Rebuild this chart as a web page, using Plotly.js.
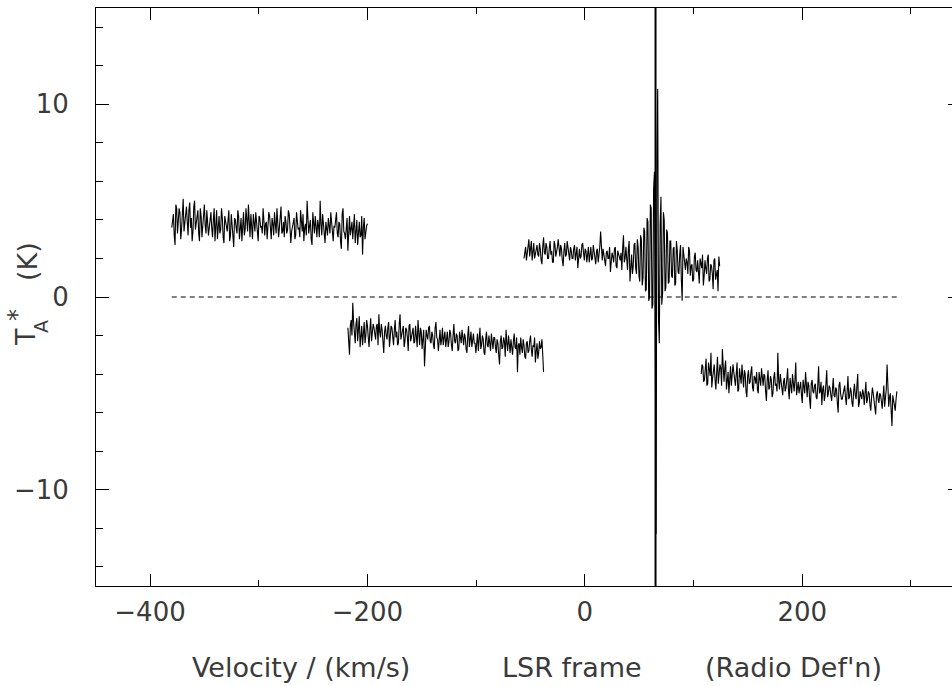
<!DOCTYPE html>
<html>
<head>
<meta charset="utf-8">
<script src="https://cdn.plot.ly/plotly-3.0.1.min.js"></script>
<style>
html,body{margin:0;padding:0;overflow:hidden;background:#fff;}
#plot{width:967px;height:686px;}
</style>
</head>
<body>
<div id="plot"></div>
<script>
// Velocity grid of each spectrum segment (km/s): first channel and channel width
const seg1Start = -380, seg2Start = -218, seg3Start = -56, seg4Start = 107;
const chanWidth = 0.75;

// Antenna temperature T_A* (K).
// "A" arrays: even channels, "B" arrays: odd channels.
const seg1A = [3.6,4.3,2.7,4.6,3.9,4.4,3.5,5.1,3.8,4.7,
  3.2,4.9,4.1,3.4,5.0,3.9,4.5,2.9,4.2,3.7,
  4.8,3.3,4.0,3.6,4.4,3.1,4.6,3.8,3.0,4.2,
  3.5,4.1,2.8,3.9,3.4,4.5,3.2,3.7,2.6,4.0,
  3.3,4.2,3.6,2.9,4.4,3.5,3.9,4.8,3.1,3.6,
  4.3,3.4,3.8,2.9,4.1,3.7,4.6,3.2,3.9,3.5,
  4.2,3.0,3.8,4.4,3.3,3.9,3.6,4.7,3.4,3.1,
  3.9,3.5,4.3,2.8,3.7,4.1,3.2,3.9,3.6,4.5,
  3.4,2.9,3.8,5.0,3.3,4.0,2.7,3.6,4.2,3.1,
  3.7,5.0,3.2,3.9,2.8,3.5,4.1,3.3,3.8,2.9,
  3.6,4.4,3.1,3.8,2.5,4.6,3.3,3.7,2.4,4.2,
  3.5,3.0,4.3,3.4,2.7,3.9,3.2,2.2,4.1,3.4,3.8];
const seg1B = [4.1,3.2,4.8,3.3,4.6,3.0,4.9,3.4,4.2,3.9,
  4.5,3.6,2.9,4.7,3.5,4.2,3.3,4.6,3.1,4.4,
  3.7,4.5,3.2,4.3,3.6,4.0,2.9,4.5,3.8,3.3,
  4.6,3.1,4.2,3.7,4.0,2.9,4.3,3.5,4.1,3.6,
  4.5,3.0,4.1,3.8,3.2,4.6,3.4,3.9,4.3,3.0,
  3.7,4.4,3.1,4.2,3.6,3.3,4.0,3.8,3.0,4.4,
  3.5,4.1,3.2,3.8,4.6,3.1,4.3,3.3,3.9,4.2,
  3.3,4.5,3.6,3.4,4.0,3.0,4.4,3.5,3.1,3.9,
  4.3,3.6,3.2,4.1,3.7,3.0,4.4,3.3,3.5,4.0,
  3.1,3.8,4.3,3.4,3.9,3.2,3.6,4.4,3.0,3.7,
  4.0,3.3,3.9,2.9,4.3,3.4,3.0,4.1,3.6,3.2,
  3.9,3.6,2.8,4.0,3.5,3.1,4.2,3.6,3.0,3.7];

const seg2A = [-1.6,-3.0,-1.2,-0.3,-1.9,-1.4,-2.3,-1.0,-1.8,-2.5,
  -1.3,-2.0,-1.5,-2.6,-1.1,-1.9,-1.6,-2.2,-1.4,-0.9,
  -2.1,-1.7,-2.9,-1.5,-2.2,-1.3,-2.0,-1.6,-2.5,-1.2,
  -1.8,-2.4,-0.9,-2.0,-1.5,-2.3,-1.7,-2.8,-1.4,-2.0,
  -1.6,-2.3,-1.9,-1.2,-2.5,-1.8,-2.1,-3.6,-1.7,-2.2,
  -1.5,-2.4,-2.0,-2.7,-1.3,-2.2,-1.9,-2.5,-1.6,-2.1,
  -2.6,-1.8,-2.3,-1.9,-2.8,-1.4,-2.4,-2.0,-2.7,-2.2,
  -1.7,-2.5,-2.1,-2.9,-1.5,-2.3,-2.6,-1.9,-2.4,-2.0,
  -2.8,-1.6,-2.5,-2.2,-3.0,-1.8,-2.6,-2.3,-1.9,-2.7,
  -2.1,-2.9,-2.4,-3.5,-2.0,-2.6,-2.3,-1.7,-2.8,-2.5,
  -2.2,-3.0,-1.9,-2.7,-3.9,-2.4,-2.1,-2.9,-2.5,-3.2,
  -2.3,-2.8,-2.0,-3.1,-2.6,-3.4,-2.4,-2.9,-2.7,-2.2,-3.9];
const seg2B = [-2.2,-1.5,-2.0,-1.3,-2.4,-1.1,-1.8,-2.6,-1.5,-1.9,
  -2.4,-1.2,-2.1,-1.7,-2.3,-1.4,-2.0,-1.5,-2.5,-1.8,
  -1.4,-2.3,-1.8,-2.0,-1.6,-2.6,-1.5,-2.2,-1.7,-2.1,
  -2.5,-1.4,-2.2,-1.8,-2.6,-1.6,-2.1,-1.5,-2.3,-1.7,
  -2.4,-1.5,-2.6,-2.0,-1.6,-2.7,-1.7,-2.3,-2.0,-1.6,
  -2.3,-1.8,-2.5,-1.6,-2.1,-2.8,-1.7,-2.2,-2.5,-1.8,
  -2.0,-2.6,-1.7,-2.5,-2.0,-2.3,-1.9,-2.8,-1.8,-2.4,
  -2.3,-1.9,-2.7,-2.0,-2.6,-1.8,-2.2,-2.4,-2.9,-1.9,
  -2.1,-2.7,-2.0,-2.9,-2.2,-2.5,-2.0,-2.8,-2.3,-2.1,
  -2.6,-2.2,-3.0,-2.3,-2.7,-2.1,-3.1,-2.4,-2.0,-2.9,
  -2.8,-2.3,-2.6,-2.1,-2.5,-3.0,-2.6,-2.2,-3.1,-2.4,
  -2.9,-2.3,-2.7,-2.5,-2.1,-2.8,-3.2,-2.3,-2.6,-3.0];

const seg3A = [2.0,2.6,2.2,3.0,2.4,1.9,2.8,2.3,2.7,2.1,
  2.5,1.7,3.1,2.2,2.6,2.0,2.9,2.4,1.8,2.7,
  2.3,3.0,2.1,2.5,1.6,2.8,2.2,2.6,1.9,2.4,
  2.0,2.7,2.3,1.5,2.5,2.1,2.8,1.9,2.4,2.2,
  1.8,2.6,2.0,2.3,1.7,2.5,2.1,3.4,1.9,2.2,
  1.6,2.4,2.0,1.3,2.3,1.8,2.6,1.5,2.2,1.9,
  1.4,3.2,2.0,1.7,2.5,0.8,2.2,1.6,2.8,1.2,
  2.6,0.8,3.0,1.0,3.4,0.4,3.9,0.0,4.6,-0.4,
  6.5,-12.3,10.8,-2.4,5.2,0.2,4.0,0.5,3.3,0.8,
  2.9,1.0,2.6,0.7,2.4,1.2,2.7,-0.2,2.1,1.4,
  1.8,2.6,1.1,1.7,0.9,2.3,1.3,1.0,2.0,1.5,
  0.6,1.9,1.2,2.2,0.9,1.6,0.4,2.0,1.3,0.3,1.6];
const seg3B = [2.4,1.9,2.7,2.1,2.9,2.5,2.0,2.6,2.2,2.8,
  1.9,2.6,2.3,2.8,2.0,2.5,2.2,1.8,2.9,2.1,
  2.6,2.2,2.7,1.9,2.4,2.1,2.9,2.3,2.6,2.0,
  2.5,1.9,2.6,2.2,2.0,2.7,2.3,2.5,1.8,2.6,
  2.2,1.9,2.7,2.0,2.4,1.8,2.6,2.2,2.5,1.7,
  2.3,2.0,2.6,1.8,2.1,2.5,1.6,2.4,2.0,2.3,
  2.5,1.8,2.6,1.4,2.9,1.9,1.2,2.7,1.5,3.0,
  1.1,3.2,0.6,3.6,0.3,4.1,-0.2,4.8,-0.6,5.6,
  -1.6,7.2,-1.2,3.8,-0.4,4.4,0.3,3.5,0.7,2.9,
  1.1,2.5,0.6,2.9,1.3,2.2,0.9,2.6,1.5,2.0,
  1.2,2.4,1.6,0.8,2.1,1.4,1.9,0.7,1.7,2.2,
  1.1,1.5,2.0,0.8,1.7,1.2,1.9,0.9,1.4,2.1];

const seg4A = [-4.0,-3.6,-4.3,-3.2,-4.5,-3.9,-2.9,-4.2,-3.5,-4.8,
  -3.1,-4.0,-3.7,-2.7,-4.4,-3.3,-4.1,-5.0,-3.6,-4.2,
  -3.9,-4.6,-3.4,-4.8,-4.1,-3.5,-4.7,-4.0,-5.2,-3.8,
  -4.4,-3.6,-4.9,-4.2,-3.9,-5.0,-4.3,-3.7,-4.6,-4.1,
  -5.4,-3.8,-4.7,-4.3,-5.0,-3.9,-4.5,-2.9,-4.8,-4.4,
  -5.1,-4.2,-4.7,-3.7,-5.3,-4.5,-4.0,-4.9,-3.4,-4.6,
  -5.0,-4.4,-5.5,-4.7,-3.9,-5.2,-4.6,-5.8,-4.3,-5.0,
  -4.5,-5.3,-3.6,-4.9,-5.6,-4.6,-5.1,-3.8,-5.0,-4.7,
  -5.4,-4.2,-5.2,-4.8,-6.0,-4.4,-5.3,-5.0,-4.6,-5.6,
  -4.1,-5.2,-4.9,-5.7,-4.5,-5.3,-4.0,-5.5,-5.1,-4.8,
  -5.6,-4.4,-5.3,-5.0,-5.9,-4.7,-5.4,-6.1,-4.9,-5.5,
  -5.1,-5.8,-4.6,-5.3,-3.5,-5.7,-5.0,-6.7,-5.4,-5.9,-4.9];
const seg4B = [-3.5,-4.4,-3.8,-4.6,-3.4,-4.1,-4.7,-3.6,-4.3,-3.9,
  -4.5,-3.5,-4.6,-4.2,-3.7,-4.8,-3.9,-4.3,-4.6,-3.5,
  -4.4,-4.0,-4.9,-3.7,-4.5,-4.2,-3.8,-4.9,-4.1,-4.5,
  -3.9,-4.7,-4.1,-4.5,-4.8,-3.9,-4.6,-4.4,-4.0,-4.9,
  -4.3,-4.8,-4.1,-5.2,-4.2,-4.6,-4.9,-4.3,-4.0,-5.0,
  -4.4,-4.9,-4.3,-4.8,-4.2,-5.0,-4.6,-4.3,-5.1,-4.4,
  -4.7,-5.1,-4.3,-5.0,-4.6,-4.4,-5.3,-4.5,-4.9,-4.6,
  -5.2,-4.6,-5.0,-4.4,-4.8,-5.4,-4.5,-5.2,-4.6,-5.1,
  -4.8,-5.1,-4.7,-5.5,-4.6,-5.0,-5.3,-4.7,-5.2,-4.9,
  -5.3,-4.7,-5.5,-4.9,-5.1,-4.6,-5.7,-4.9,-5.3,-5.0,
  -5.1,-5.5,-4.9,-5.6,-5.2,-5.0,-5.8,-5.1,-5.3,-5.0,
  -5.4,-5.2,-5.7,-4.8,-5.5,-5.2,-5.9,-5.1,-5.6,-5.3];

// Baseline (dashed zero line) extent and marker velocity
const baseX = [-380, 288];
const baseY = [0, 0];
const markerVel = 65;

// Axis ticks
const xTicks = [-400, -200, 0, 200];
const xTickText = ['\u2212400', '\u2212200', '0', '200'];
const yTicks = [-10, 0, 10];
const yTickText = ['\u221210', '0', '10'];

// put even and odd channels back in channel order
function channels(a, b) {
  const out = [];
  for (let i = 0; i < a.length; i++) {
    out.push(a[i]);
    if (i < b.length) out.push(b[i]);
  }
  return out;
}

const spec = {mode: 'lines', line: {color: '#000', width: 1.1}, dx: chanWidth,
  hoverinfo: 'skip', showlegend: false};
const traces = [
  Object.assign({}, spec, {x0: seg1Start, y: channels(seg1A, seg1B)}),
  Object.assign({}, spec, {x0: seg2Start, y: channels(seg2A, seg2B)}),
  Object.assign({}, spec, {x0: seg3Start, y: channels(seg3A, seg3B)}),
  Object.assign({}, spec, {x0: seg4Start, y: channels(seg4A, seg4B)}),
  {x: baseX, y: baseY, mode: 'lines', line: {color: '#000', width: 1, dash: '5px,4px'},
   hoverinfo: 'skip', showlegend: false}
];

const txtColor = '#3a3a3a';
const tickFont = {family: 'DejaVu Sans', size: 26, color: txtColor};
const titleFont = {family: 'DejaVu Sans', size: 27, color: txtColor};

// helpers: pixel position -> paper coordinates (plot area 96..961 x 8..586)
const px = v => (v - 96) / 865;
const py = v => (586 - v) / 578;

function lab(text, x, y, extra) {
  return Object.assign({text: text, xref: 'paper', yref: 'paper', x: px(x), y: py(y),
    showarrow: false, font: titleFont, xanchor: 'center', yanchor: 'middle'}, extra || {});
}

const layout = {
  width: 967, height: 686,
  margin: {l: 96, r: 6, t: 8, b: 100},
  paper_bgcolor: '#fff', plot_bgcolor: '#fff',
  xaxis: {
    range: [-449.7, 346], showgrid: false, zeroline: false,
    showline: true, linecolor: '#000', linewidth: 1, mirror: 'allticks',
    ticks: 'inside', ticklen: 12, tickcolor: '#000', tickwidth: 1,
    tickmode: 'array', tickvals: xTicks, ticktext: xTickText,
    tickfont: tickFont, ticklabelstandoff: 3,
    minor: {dtick: 100, tick0: 0, ticks: 'inside', ticklen: 6, tickcolor: '#000', showgrid: false}
  },
  yaxis: {
    range: [-15, 15], showgrid: false, zeroline: false,
    showline: true, linecolor: '#000', linewidth: 1, mirror: 'allticks',
    ticks: 'inside', ticklen: 13, tickcolor: '#000', tickwidth: 1,
    tickmode: 'array', tickvals: yTicks, ticktext: yTickText,
    tickfont: tickFont, ticklabelstandoff: 21,
    minor: {dtick: 2, tick0: 0, ticks: 'inside', ticklen: 7, tickcolor: '#000', showgrid: false}
  },
  shapes: [{type: 'line', xref: 'x', yref: 'paper', x0: markerVel, x1: markerVel, y0: 0, y1: 1,
    line: {color: '#000', width: 2}}],
  annotations: [
    lab('Velocity / (km/s)', 301, 667),
    lab('LSR frame', 572, 667),
    lab("(Radio Def'n)", 793, 667),
    lab('T', 26, 337, {textangle: -90}),
    lab('A', 41, 327, {textangle: -90, font: Object.assign({}, titleFont, {size: 19})}),
    lab('*', 17, 315, {textangle: -90, font: Object.assign({}, titleFont, {size: 24})}),
    lab('(K)', 27, 262, {textangle: -90})
  ]
};

Plotly.newPlot('plot', traces, layout, {staticPlot: true, displayModeBar: false});
</script>
</body>
</html>
